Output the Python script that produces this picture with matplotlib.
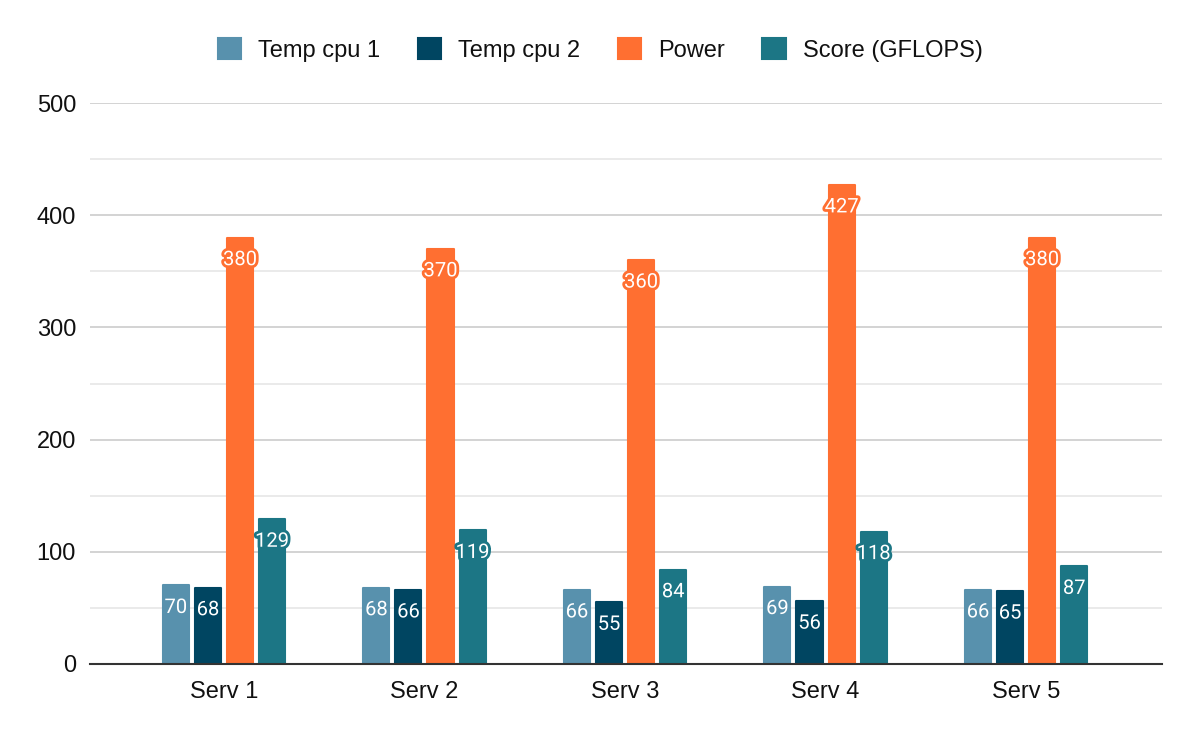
import matplotlib
matplotlib.use("Agg")
import matplotlib.pyplot as plt
import matplotlib.patheffects as pe
import numpy as np

categories = ["Serv 1", "Serv 2", "Serv 3", "Serv 4", "Serv 5"]
temp_cpu1 = [70, 68, 66, 69, 66]
temp_cpu2 = [68, 66, 55, 56, 65]
power = [380, 370, 360, 427, 380]
score = [129, 119, 84, 118, 87]

series = [
    ("Temp cpu 1", temp_cpu1, "#5891AD"),
    ("Temp cpu 2", temp_cpu2, "#004561"),
    ("Power", power, "#FF6F31"),
    ("Score (GFLOPS)", score, "#1C7685"),
]

fig = plt.figure(figsize=(12, 7.42), dpi=100)
ax = fig.add_axes([90/1200, 1-664/742, (1162-90)/1200, (664-103)/742])

x = np.arange(len(categories))
pitch = 0.16
width = 0.13
for i, (name, vals, col) in enumerate(series):
    pos = x + (i - 1.5) * pitch
    bars = ax.bar(pos, vals, width=width, color=col, label=name, zorder=3,
                  edgecolor=col, linewidth=1.5, joinstyle="round")
    for b, v in zip(bars, vals):
        t = ax.annotate(str(v), (b.get_x() + b.get_width()/2, v), xytext=(0, -22),
                        textcoords="offset pixels",
                        ha="center", va="center", color="white", fontsize=14.5,
                        family="Roboto", zorder=5)
        t.set_path_effects([pe.withStroke(linewidth=4, foreground=col)])

ax.set_xlim(-0.668, 4.678)
ax.set_ylim(0, 500)
ax.set_yticks(np.arange(0, 501, 100))
ax.set_yticks(np.arange(0, 501, 50), minor=True)
ax.set_xticks(x)
ax.set_xticklabels(categories)
ax.grid(axis="y", which="major", color="#CCCCCC", linewidth=1.2, zorder=0)
ax.grid(axis="y", which="minor", color="#E6E6E6", linewidth=1.2, zorder=0)
for s in ["top", "right", "left"]:
    ax.spines[s].set_visible(False)
ax.spines["bottom"].set_color("#333333")
ax.spines["bottom"].set_linewidth(1.5)
ax.spines["bottom"].set_zorder(4)
ax.tick_params(axis="both", which="both", length=0, labelsize=17, labelcolor="#111111",
               labelfontfamily="Liberation Sans")
ax.tick_params(axis="y", pad=10)
ax.tick_params(axis="x", pad=12)

leg = fig.legend(loc="center", bbox_to_anchor=(0.5, 1-50/742), ncol=4, frameon=False,
                 prop={"family": "Liberation Sans", "size": 17}, handlelength=1.0,
                 handleheight=1.0, columnspacing=1.6, handletextpad=0.7)
for t in leg.get_texts():
    t.set_color("#111111")

fig.savefig("out.png", dpi=100)
